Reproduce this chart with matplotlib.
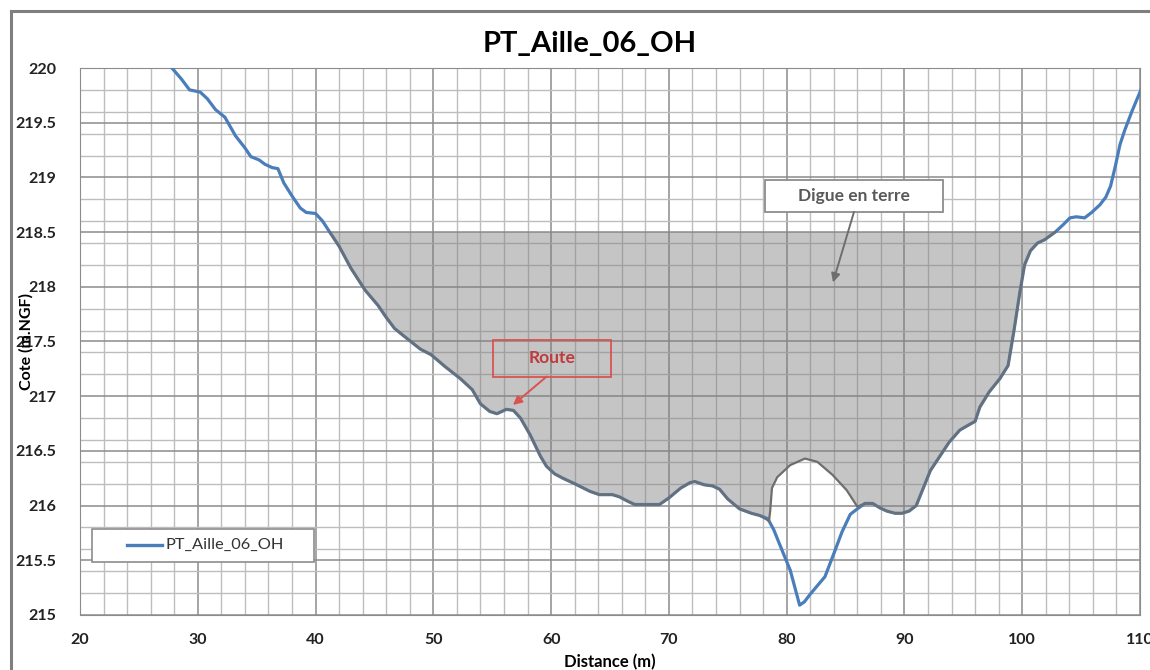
import numpy as np
import matplotlib.pyplot as plt
from matplotlib.patches import Rectangle
from matplotlib.lines import Line2D
from matplotlib.ticker import MultipleLocator, FormatStrFormatter

# ---------------- DATA ----------------
series_name = "PT_Aille_06_OH"

distance = [27.6, 27.8, 28.6, 29.3, 30.2, 30.8, 31.5, 32.3, 33.2, 34.0, 34.5, 35.2, 35.7,
            36.3, 36.8, 37.3, 38.0, 38.7, 39.2, 40.0, 40.6, 41.2, 42.0, 43.0, 44.2, 45.3,
            46.0, 46.7, 47.5, 48.9, 49.8, 51.0, 52.3, 53.3, 54.0, 54.8, 55.4, 56.2, 56.8,
            57.4, 58.2, 59.1, 59.6, 60.3, 61.0, 62.0, 63.3, 64.1, 65.2, 65.8, 66.5, 67.1,
            68.0, 69.2, 70.0, 71.0, 71.8, 72.2, 73.0, 73.7, 74.3, 75.0, 76.0, 77.0, 77.7,
            78.4, 78.9, 79.5, 80.3, 81.1, 81.5, 82.0, 82.7, 83.25, 84.0, 84.7, 85.4, 86.0,
            86.65, 87.3, 87.9, 88.5, 89.2, 89.8, 90.4, 91.0, 91.6, 92.2, 93.0, 93.8, 94.7,
            95.5, 96.0, 96.4, 97.2, 98.1, 98.8, 99.3, 99.8, 100.2, 100.7, 101.3, 101.9,
            102.8, 103.5, 104.05, 104.6, 105.3, 105.9, 106.6, 107.1, 107.5, 107.9, 108.3,
            108.7, 109.3, 110.0, 110.3]
cote = [220.02, 220.0, 219.9, 219.8, 219.78, 219.72, 219.62, 219.55, 219.38, 219.27, 219.19,
        219.16, 219.12, 219.09, 219.08, 218.95, 218.83, 218.72, 218.68, 218.67, 218.6, 218.5,
        218.37, 218.17, 217.97, 217.83, 217.72, 217.62, 217.55, 217.43, 217.38, 217.27,
        217.16, 217.06, 216.93, 216.86, 216.84, 216.88, 216.87, 216.8, 216.65, 216.45,
        216.36, 216.29, 216.25, 216.2, 216.13, 216.1, 216.1, 216.08, 216.04, 216.01, 216.01,
        216.01, 216.07, 216.16, 216.21, 216.22, 216.19, 216.18, 216.15, 216.06, 215.97,
        215.93, 215.91, 215.88, 215.78, 215.62, 215.41, 215.09, 215.12, 215.19, 215.28,
        215.35, 215.56, 215.76, 215.92, 215.97, 216.02, 216.02, 215.98, 215.95, 215.93,
        215.93, 215.95, 216.0, 216.16, 216.32, 216.45, 216.58, 216.69, 216.74, 216.77,
        216.9, 217.04, 217.16, 217.28, 217.6, 217.95, 218.2, 218.33, 218.4, 218.43, 218.5,
        218.57, 218.63, 218.64, 218.63, 218.68, 218.75, 218.82, 218.92, 219.1, 219.3,
        219.43, 219.6, 219.78, 219.86]

# outline of the earth dike
digue_x = [41.2, 42.0, 43.0, 44.2, 45.3, 46.0, 46.7, 47.5, 48.9, 49.8, 51.0, 52.3, 53.3,
           54.0, 54.8, 55.4, 56.2, 56.8, 57.4, 58.2, 59.1, 59.6, 60.3, 61.0, 62.0, 63.3,
           64.1, 65.2, 65.8, 66.5, 67.1, 68.0, 69.2, 70.0, 71.0, 71.8, 72.2, 73.0, 73.7,
           74.3, 75.0, 76.0, 77.0, 77.7, 78.5, 78.6, 78.75, 79.2, 80.3, 81.55, 82.6, 83.9,
           85.1, 86.0, 86.65, 87.3, 87.9, 88.5, 89.2, 89.8, 90.4, 91.0, 91.6, 92.2, 93.0,
           93.8, 94.7, 95.5, 96.0, 96.4, 97.2, 98.1, 98.8, 99.3, 99.8, 100.2, 100.7, 101.3,
           101.9, 102.8]
digue_y = [218.5, 218.37, 218.17, 217.97, 217.83, 217.72, 217.62, 217.55, 217.43, 217.38,
           217.27, 217.16, 217.06, 216.93, 216.86, 216.84, 216.88, 216.87, 216.8, 216.65,
           216.45, 216.36, 216.29, 216.25, 216.2, 216.13, 216.1, 216.1, 216.08, 216.04,
           216.01, 216.01, 216.01, 216.07, 216.16, 216.21, 216.22, 216.19, 216.18, 216.15,
           216.06, 215.97, 215.93, 215.91, 215.86, 215.95, 216.16, 216.26, 216.37, 216.43,
           216.4, 216.28, 216.14, 215.99, 216.02, 216.02, 215.98, 215.95, 215.93, 215.93,
           215.95, 216.0, 216.16, 216.32, 216.45, 216.58, 216.69, 216.74, 216.77, 216.9,
           217.04, 217.16, 217.28, 217.6, 217.95, 218.2, 218.33, 218.4, 218.43, 218.5]
crest = 218.5

# callouts: text, box (x0, x1, y0, y1) in data units, arrow tip
digue_text = "Digue en terre"
digue_box = (78.16, 93.27, 218.684, 218.976)
digue_tip = (83.93, 218.04)
route_text = "Route"
route_box = (55.07, 65.08, 217.18, 217.51)
route_tip = (56.76, 216.92)

# ---------------- PLOT ----------------
plt.rcParams['font.family'] = ['Lato', 'DejaVu Sans']

fig = plt.figure(figsize=(11.5, 6.7), dpi=100)
ax = fig.add_axes([0.0696, 0.0821, 0.9217, 0.8164])

# chart area border
fig.patches.append(Rectangle((0.0095, -0.05), 1.1, 1.034, transform=fig.transFigure,
                             fill=False, edgecolor="#7f7f7f", lw=2.2))

# dike polygon
poly_x = digue_x + [digue_x[-1], digue_x[0]]
poly_y = digue_y + [crest, crest]
ax.fill(poly_x, poly_y, facecolor="#808080", alpha=0.45, edgecolor="none", zorder=2)
ax.plot(distance, cote, color="#4a7ebb", lw=2.3, zorder=3)
ax.plot(digue_x, digue_y, color="#6e6e6e", lw=1.6, zorder=4)

ax.set_xlim(20, 110)
ax.set_ylim(215, 220)
ax.xaxis.set_major_locator(MultipleLocator(10))
ax.xaxis.set_minor_locator(MultipleLocator(2))
ax.yaxis.set_major_locator(MultipleLocator(0.5))
ax.yaxis.set_minor_locator(MultipleLocator(0.2))
ax.yaxis.set_major_formatter(FormatStrFormatter('%g'))
ax.grid(which="major", color="#8c8c8c", lw=1.1)
ax.grid(which="minor", color="#bdbdbd", lw=1.0)
ax.set_axisbelow(True)
ax.tick_params(which="both", length=0)
ax.tick_params(axis="x", pad=13, labelsize=11.5, colors="#222222")
ax.tick_params(axis="y", pad=17, labelsize=11.5, colors="#222222")
for lab in ax.get_xticklabels() + ax.get_yticklabels():
    lab.set_fontweight("bold")
for s in ax.spines.values():
    s.set_color("#8c8c8c")

fig.text(0.513, 0.935, series_name, ha="center", va="center", fontsize=21, fontweight="bold")
ax.set_xlabel("Distance (m)", fontsize=12, fontweight="bold", labelpad=5)
ax.set_ylabel("Cote (m.NGF)", fontsize=11.5, fontweight="bold")
ax.yaxis.set_label_coords(-0.044, 0.5)

# callout boxes + arrows
for text, box, tip, tcol, ecol, fcol in [
        (digue_text, digue_box, digue_tip, "#595959", "#8c8c8c", "white"),
        (route_text, route_box, route_tip, "#c0393b", "#d9534f", "none")]:
    x0, x1, y0, y1 = box
    ax.add_patch(Rectangle((x0, y0), x1 - x0, y1 - y0, facecolor=fcol, edgecolor=ecol,
                           lw=1.3, zorder=6))
    ax.text((x0 + x1) / 2, (y0 + y1) / 2, text, ha="center", va="center", fontsize=12.5,
            fontweight="bold", color=tcol, zorder=7)
    ax.annotate("", xy=tip, xytext=((x0 + x1) / 2 - (0.45 if fcol == "none" else 0), y0),
                arrowprops=dict(arrowstyle="-|>", color=ecol if fcol == "none" else "#6e6e6e",
                                lw=1.4, shrinkA=0, shrinkB=0, mutation_scale=13),
                zorder=6)

# legend box
ax.add_patch(Rectangle((0.0113, 0.0969), 0.2095, 0.0603, transform=ax.transAxes,
                       facecolor="white", edgecolor="#8c8c8c", lw=1.2, zorder=6))
ax.add_line(Line2D([0.0443, 0.0774], [0.128, 0.128], transform=ax.transAxes,
                   color="#4a7ebb", lw=2.4, zorder=7))
ax.text(0.081, 0.128, series_name, transform=ax.transAxes, ha="left", va="center",
        fontsize=11.8, color="#333333", zorder=7)

fig.savefig("out.png", dpi=100)
